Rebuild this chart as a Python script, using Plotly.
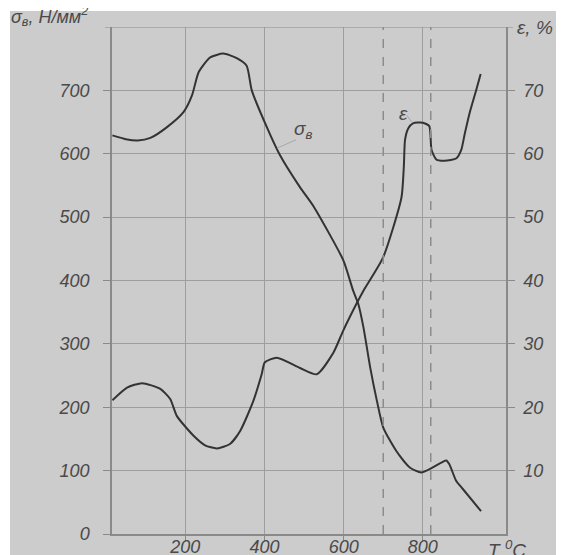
import plotly.graph_objects as go

# --- data ---
T_sigma = [16, 50, 80, 112, 154, 196, 217, 234, 263, 296, 330, 355, 368, 406, 439,
           490, 523, 599, 624, 637, 650, 667, 684, 700, 733, 767, 796, 825,
           859, 867, 884, 901, 947]
sigma_b = [629, 623, 621, 625, 642, 666, 692, 729, 752, 758, 751, 739, 700, 642, 598,
           547, 518, 432, 384, 363, 326, 263, 210, 168, 131, 105, 97, 105,
           116, 110, 84, 71, 36]

T_eps = [16, 53, 91, 137, 162, 179, 221, 250, 280, 313, 339, 372, 393, 401, 431,
         490, 532, 574, 599, 633, 650, 700, 746, 752, 755, 763, 775, 800, 816, 819,
         822, 834, 855, 885, 897, 906, 918, 935, 946]
eps = [21.1, 23.1, 23.8, 22.9, 21.3, 18.6, 15.5, 14.0, 13.5, 14.2, 16.3, 21.0, 25.2, 27.1, 27.8,
       26.2, 25.2, 28.6, 32.1, 36.4, 38.4, 43.7, 53.1, 58.0, 62.2, 64.0, 64.8, 64.9, 64.4, 63.2,
       60.6, 59.1, 58.9, 59.3, 60.6, 63.2, 66.4, 70.1, 72.6]

x_ticks = [200, 400, 600, 800]
x_ticktext = ["200", "400", "600", "800"]
y1_ticks = [0, 100, 200, 300, 400, 500, 600, 700]
y1_ticktext = ["0", "100", "200", "300", "400", "500", "600", "700"]
y2_ticks = [10, 20, 30, 40, 50, 60, 70]
y2_ticktext = ["10", "20", "30", "40", "50", "60", "70"]
dashed_T = [700, 820]
X_RANGE = [15, 1010]
Y1_MAX = 800
Y2_MAX = 80

CURVE = "#333333"
GRID = "#9e9e9e"
AXIS = "#8a8a8a"
TXT = "#4a4a4a"
BG = "#cccccc"
FONT = "Liberation Sans"

def it(labels):
    return ["<i>%s</i>" % s for s in labels]

fig = go.Figure()
fig.add_trace(go.Scatter(x=T_sigma, y=sigma_b, mode="lines",
                         line=dict(color=CURVE, width=2, shape="spline", smoothing=0.6),
                         hoverinfo="skip", showlegend=False))
fig.add_trace(go.Scatter(x=T_eps, y=eps, mode="lines", yaxis="y2",
                         line=dict(color=CURVE, width=2, shape="spline", smoothing=0.6),
                         hoverinfo="skip", showlegend=False))

tickfont = dict(family=FONT, size=18, color=TXT)

# page body has an 8px margin, so figure is 8px smaller than the window
fig.update_layout(
    template="none",
    width=556, height=547,
    margin=dict(l=104, r=58, t=19, b=21, pad=0, autoexpand=False),
    paper_bgcolor=BG,
    plot_bgcolor=BG,
    xaxis=dict(range=X_RANGE, tickvals=x_ticks, ticktext=it(x_ticktext),
               showgrid=True, gridcolor=GRID, gridwidth=1,
               showline=True, linecolor=AXIS, linewidth=1.5,
               ticks="outside", ticklen=6, tickcolor=AXIS, ticklabelstandoff=-10,
               tickfont=tickfont, zeroline=False, fixedrange=True, automargin=False),
    yaxis=dict(range=[0, Y1_MAX], tickvals=y1_ticks, ticktext=it(y1_ticktext),
               showgrid=True, gridcolor=GRID, gridwidth=1,
               showline=True, linecolor=AXIS, linewidth=1.5,
               ticks="outside", ticklen=7, tickcolor=AXIS, ticklabelstandoff=10,
               tickfont=tickfont, zeroline=False, fixedrange=True, automargin=False),
    yaxis2=dict(range=[0, Y2_MAX], tickvals=y2_ticks, ticktext=it(y2_ticktext),
                overlaying="y", side="right", showgrid=False,
                showline=True, linecolor=AXIS, linewidth=1.5,
                ticks="outside", ticklen=7, tickcolor=AXIS, ticklabelstandoff=5,
                tickfont=tickfont, zeroline=False, fixedrange=True, automargin=False),
)

# thin white strips at top/left of the sheet
fig.add_shape(type="rect", xref="paper", yref="paper", x0=-0.3, x1=1.2, y0=1.0316, y1=1.05,
              fillcolor="white", line=dict(width=0), layer="below")
fig.add_shape(type="rect", xref="paper", yref="paper", x0=-0.3, x1=-0.2589, y0=-0.1, y1=1.05,
              fillcolor="white", line=dict(width=0), layer="below")

# top line at 800 / 80 with outward tick stubs on both sides
fig.add_shape(type="line", xref="paper", yref="y", x0=-0.018, x1=1.018, y0=Y1_MAX, y1=Y1_MAX,
              line=dict(color=AXIS, width=1.2))

for t in dashed_T:
    fig.add_shape(type="line", xref="x", yref="paper", x0=t, x1=t, y0=0, y1=1,
                  line=dict(color="#8c8c8c", width=1.5, dash="dash"), layer="above")

# leader lines for curve labels
fig.add_shape(type="line", xref="x", yref="y", x0=432, y0=609, x1=480, y1=622,
              line=dict(color="#a8a8a8", width=1))
fig.add_shape(type="line", xref="x", yref="y", x0=759, y0=661, x1=772, y1=650,
              line=dict(color="#a8a8a8", width=1))

ann_font = dict(family=FONT, size=19, color=TXT)
fig.add_annotation(x=-0.262, y=1.02, xref="paper", yref="paper", xanchor="left", yanchor="middle",
                   text="<i>σ<sub>в</sub>, Н/мм<sup>2</sup></i>", showarrow=False,
                   font=dict(family=FONT, size=18, color=TXT))
fig.add_annotation(x=1.022, y=1.0, xref="paper", yref="paper", xanchor="left", yanchor="middle",
                   text="<i>ε, %</i>", showarrow=False, font=ann_font)
fig.add_annotation(x=0.95, y=-0.03, xref="paper", yref="paper", xanchor="left", yanchor="middle",
                   text="<i>T <sup>0</sup>C</i>", showarrow=False, font=ann_font)
fig.add_annotation(x=497, y=637, xref="x", yref="y", xanchor="center", yanchor="middle",
                   text="<i>σ<sub>в</sub></i>", showarrow=False, font=ann_font)
fig.add_annotation(x=752, y=664, xref="x", yref="y", xanchor="center", yanchor="middle",
                   text="<i>ε</i>", showarrow=False, font=ann_font)

fig.write_html("out.html")
